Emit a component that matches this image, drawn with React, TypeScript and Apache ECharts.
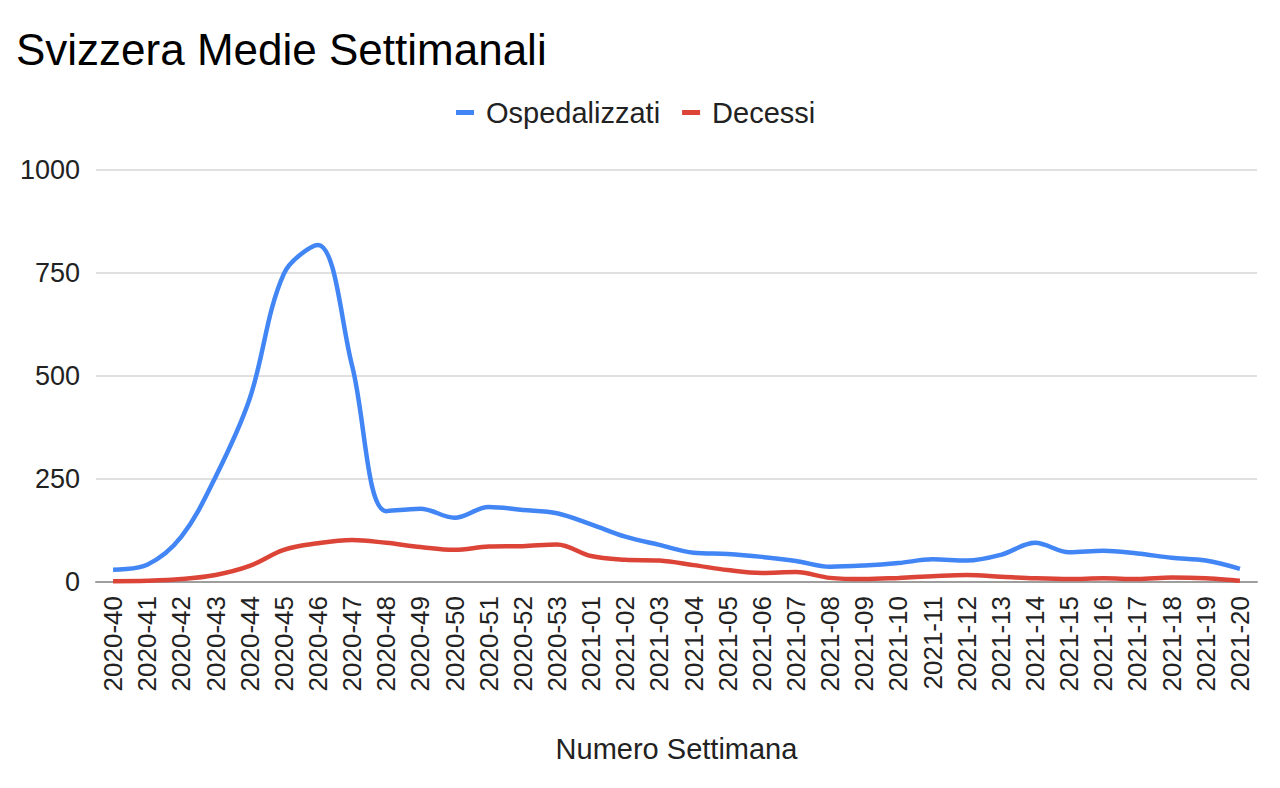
import React, { useEffect, useRef } from "react";
import * as echarts from "echarts";

const weeks2020 = ["2020-40","2020-41","2020-42","2020-43","2020-44","2020-45","2020-46","2020-47","2020-48","2020-49","2020-50","2020-51","2020-52","2020-53"];
const weeks2021 = ["2021-01","2021-02","2021-03","2021-04","2021-05","2021-06","2021-07","2021-08","2021-09","2021-10","2021-11","2021-12","2021-13","2021-14","2021-15","2021-16","2021-17","2021-18","2021-19","2021-20"];
const categories = [...weeks2020, ...weeks2021];

const ospedalizzati = [30, 42, 110, 255, 445, 748, 818, 525, 172, 178, 156, 182, 175, 167, 140, 110, 90, 71, 68, 61, 51, 37, 40, 46, 55, 52, 66, 95, 72, 76, 69, 59, 52, 32];
const decessi = [2, 3, 7, 17, 39, 78, 94, 102, 95, 85, 78, 86, 87, 91, 63, 54, 52, 41, 29, 22, 24, 10, 7, 10, 14, 17, 13, 9, 7, 9, 7, 11, 9, 3];

const yTicks = [0, 250, 500, 750, 1000];

const FONT = "'Liberation Sans', Arial, sans-serif";

export default function App() {
  const ref = useRef<HTMLDivElement>(null);
  useEffect(() => {
    if (!ref.current) return;
    const chart = echarts.init(ref.current, undefined, { renderer: "svg" });
    chart.setOption({
      animation: false,
      backgroundColor: "#ffffff",
      textStyle: { fontFamily: FONT },
      title: {
        text: "Svizzera Medie Settimanali",
        left: 16,
        top: 27,
        padding: 0,
        textStyle: { fontFamily: FONT, fontSize: 44, fontWeight: "normal", color: "#000000" },
      },
      legend: {
        left: 456,
        top: 98,
        padding: 0,
        icon: "rect",
        itemWidth: 18,
        itemHeight: 5,
        itemGap: 22,
        textStyle: { fontFamily: FONT, fontSize: 29, color: "#222222", padding: [0, 0, 0, 7] },
        data: ["Ospedalizzati", "Decessi"],
      },
      grid: { left: 96, right: 23, top: 170, bottom: 206, containLabel: false },
      xAxis: {
        type: "category",
        data: categories,
        boundaryGap: true,
        name: "Numero Settimana",
        nameLocation: "middle",
        nameGap: 152,
        nameTextStyle: { fontFamily: FONT, fontSize: 29, color: "#222222" },
        axisLine: { lineStyle: { color: "#9e9e9e", width: 2 } },
        axisTick: { show: false },
        axisLabel: { rotate: 90, interval: 0, fontFamily: FONT, fontSize: 26, color: "#222222", margin: 14 },
        splitLine: { show: false },
      },
      yAxis: {
        type: "value",
        min: 0,
        max: 1000,
        interval: 250,
        axisLine: { show: false },
        axisTick: { show: false },
        axisLabel: {
          fontFamily: FONT,
          fontSize: 27,
          color: "#222222",
          margin: 16,
          customValues: yTicks,
          formatter: (v: number) => String(v),
        },
        splitLine: { lineStyle: { color: "#e0e0e0", width: 2 } },
      },
      series: [
        {
          name: "Ospedalizzati",
          type: "line",
          data: ospedalizzati,
          smooth: 0.35,
          showSymbol: false,
          symbol: "none",
          lineStyle: { color: "#4285f4", width: 4.5 },
          itemStyle: { color: "#4285f4" },
          z: 3,
        },
        {
          name: "Decessi",
          type: "line",
          data: decessi,
          smooth: 0.35,
          showSymbol: false,
          symbol: "none",
          lineStyle: { color: "#db4437", width: 4.5 },
          itemStyle: { color: "#db4437" },
          z: 2,
        },
      ],
    });
    return () => chart.dispose();
  }, []);
  return (
    <div
      ref={ref}
      style={{ position: "fixed", left: 0, top: 0, width: 1280, height: 788, background: "#fff" }}
    />
  );
}
